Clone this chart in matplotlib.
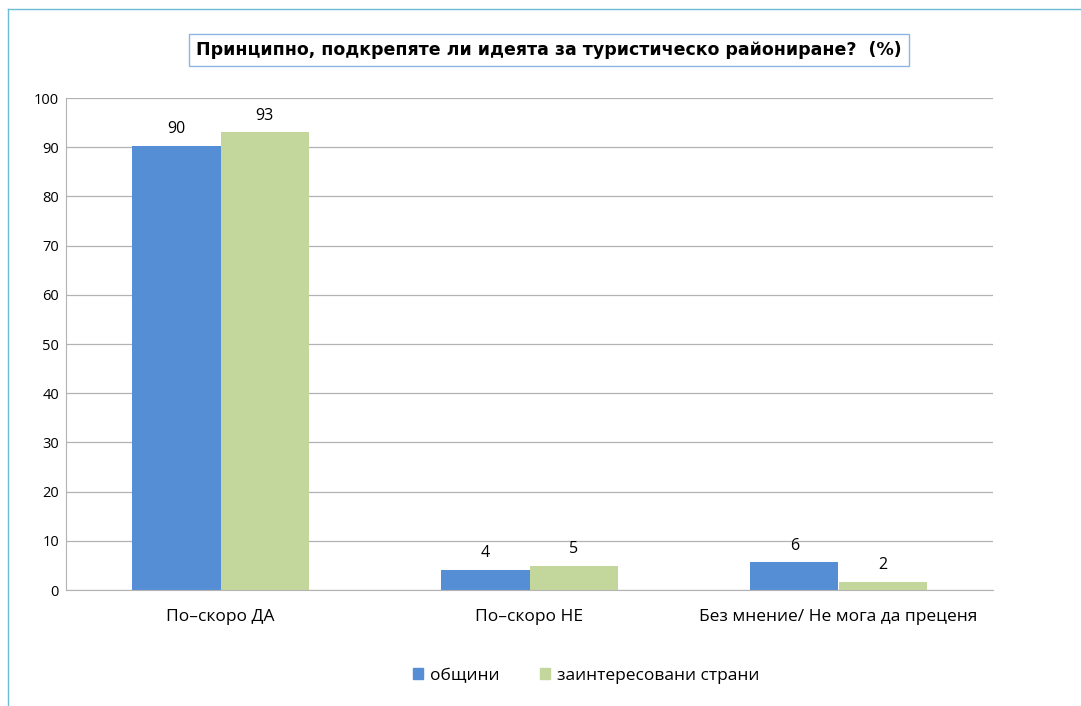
import numpy as np
import matplotlib
matplotlib.use('Agg')
from matplotlib import pyplot as plt
from matplotlib.patches import Rectangle
from matplotlib.lines import Line2D

## data
categories = ['По–скоро ДА', 'По–скоро НЕ', 'Без мнение/ Не мога да преценя']
obshtini = [90.2, 4.1, 5.6]
strani = [93.0, 4.9, 1.6]
series_names = ['общини', 'заинтересовани страни']
yticks = [0, 10, 20, 30, 40, 50, 60, 70, 80, 90, 100]
title = 'Принципно, подкрепяте ли идеята за туристическо райониране?  (%)'

blue = '#558ED5'
green = '#C3D69B'
grid_col = '#B3B3B3'

plt.rcParams['font.family'] = ['Open Sans', 'DejaVu Sans']

fig = plt.figure(figsize=(10.81, 7.06), dpi=100)
ax = fig.add_axes([66/1081, 1-590/706, (993-66)/1081, (590-98)/706])

x = np.arange(len(categories))
w = 0.285
b1 = ax.bar(x - w/2, obshtini, w, color=blue, zorder=2)
b2 = ax.bar(x + w/2, strani, w, color=green, zorder=2)

# value labels
for bars in (b1, b2):
    for r in bars:
        ax.text(r.get_x() + r.get_width()/2, r.get_height() + 1.8, '%.0f' % r.get_height(),
                ha='center', va='bottom', fontsize=11.5, color='black')

ax.set_xlim(-0.5, len(categories) - 0.5)
ax.set_ylim(0, 100)
ax.set_yticks(yticks)
ax.set_xticks(x)
ax.set_xticklabels(categories, fontsize=12.5)
ax.tick_params(axis='y', labelsize=10.5, length=0, pad=5)
ax.tick_params(axis='x', length=0, pad=14)
ax.yaxis.grid(True, color=grid_col, lw=0.9, zorder=0)
for s in ['top', 'right']:
    ax.spines[s].set_visible(False)
ax.spines['left'].set_color(grid_col)
ax.spines['bottom'].set_color(grid_col)

# title in a box
fig.text(549/1081, 1-50/706, title, ha='center', va='center', fontsize=12.5,
         fontweight='bold', family=['Liberation Sans Narrow', 'DejaVu Sans'],
         bbox=dict(boxstyle='square,pad=0.4', fc='white', ec='#8EB4E3', lw=1))

# frame lines of the slide
fig.add_artist(Line2D([8/1081, 8/1081], [0, 1-9/706], color='#6DBBD6', lw=1))
fig.add_artist(Line2D([8/1081, 1], [1-9/706, 1-9/706], color='#6DBBD6', lw=1))

# legend
handles = [Rectangle((0, 0), 1, 1, color=blue), Rectangle((0, 0), 1, 1, color=green)]
fig.legend(handles, series_names, loc='center', bbox_to_anchor=(586/1081, 1-676/706),
           ncol=2, frameon=False, fontsize=12.5, handlelength=0.6, handleheight=0.6,
           handletextpad=0.4, columnspacing=2.3)

fig.savefig('out.png', dpi=100)
